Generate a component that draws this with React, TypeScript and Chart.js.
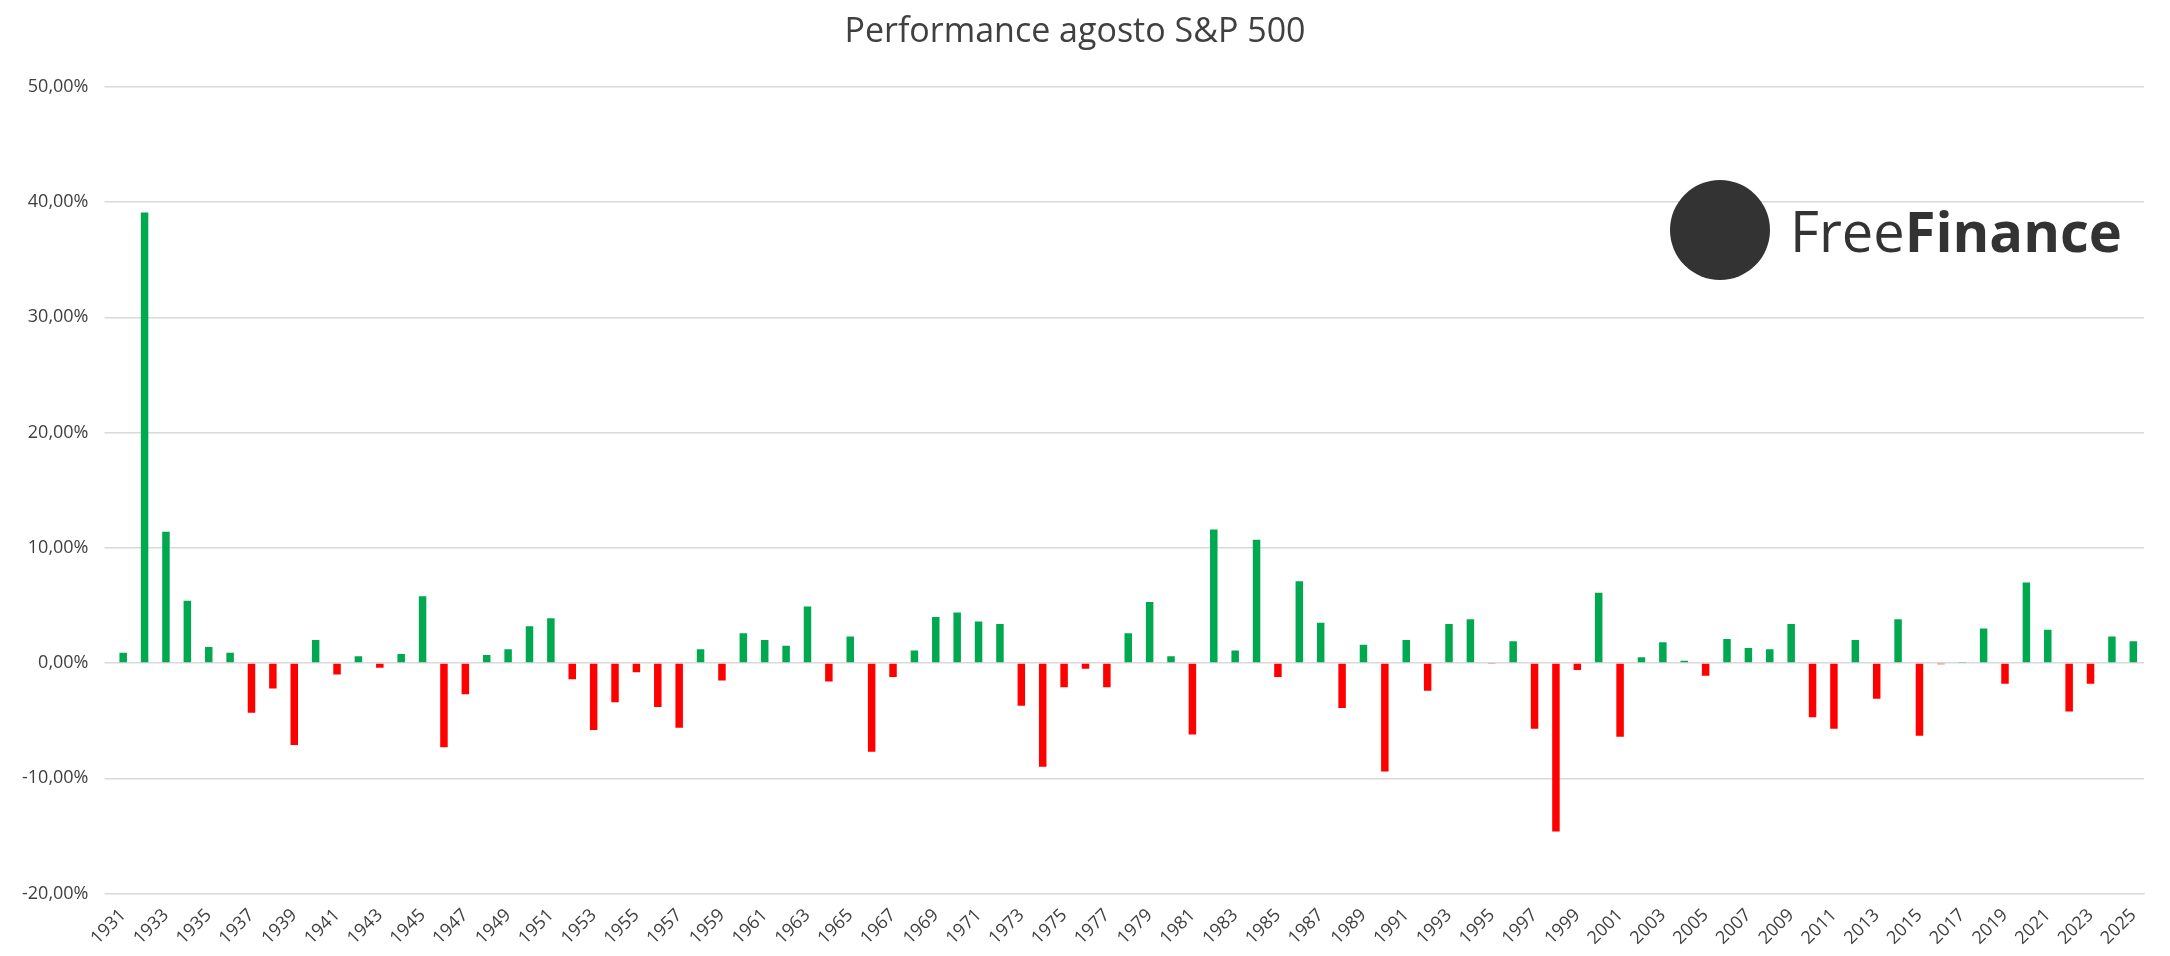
import React, { useEffect, useRef } from "react";
import { Chart, registerables } from "chart.js";
Chart.register(...registerables);

const years: string[] = [];
for (let y = 1931; y <= 2025; y++) years.push(String(y));
const values: number[] = [
  0.9, 39.1, 11.4, 5.4, 1.4, 0.9, -4.3, -2.2, -7.1, 2.0,
  -1.0, 0.6, -0.4, 0.8, 5.8, -7.3, -2.7, 0.7, 1.2, 3.2,
  3.9, -1.4, -5.8, -3.4, -0.8, -3.8, -5.6, 1.2, -1.5, 2.6,
  2.0, 1.5, 4.9, -1.6, 2.3, -7.7, -1.2, 1.1, 4.0, 4.4,
  3.6, 3.4, -3.7, -9.0, -2.1, -0.5, -2.1, 2.6, 5.3, 0.6,
  -6.2, 11.6, 1.1, 10.7, -1.2, 7.1, 3.5, -3.9, 1.6, -9.4,
  2.0, -2.4, 3.4, 3.8, -0.03, 1.9, -5.7, -14.6, -0.6, 6.1,
  -6.4, 0.5, 1.8, 0.2, -1.1, 2.1, 1.3, 1.2, 3.4, -4.7,
  -5.7, 2.0, -3.1, 3.8, -6.3, -0.1, 0.05, 3.0, -1.8, 7.0,
  2.9, -4.2, -1.8, 2.3, 1.9,
];
const title = "Performance agosto S&P 500";

export default function App() {
  const ref = useRef<HTMLCanvasElement>(null);
  useEffect(() => {
    document.body.style.margin = "0";
    const c = new Chart(ref.current!, {
      type: "bar",
      data: {
        labels: years,
        datasets: [{
          data: values,
          backgroundColor: values.map(v => (v >= 0 ? "#00A84F" : "#FF0000")),
          barPercentage: 0.7,
          categoryPercentage: 0.5,
        }],
      },
      options: {
        animation: false,
        responsive: false,
        layout: { padding: { left: 6, right: 26, top: 8, bottom: 4 } },
        plugins: {
          legend: { display: false },
          tooltip: { enabled: false },
          title: {
            display: true, text: title, color: "#404040",
            font: { size: 34, family: "Open Sans", weight: "normal" },
            padding: { top: 4, bottom: 34 },
          },
        },
        scales: {
          x: {
            grid: { display: false },
            border: { color: "#d9d9d9" },
            ticks: {
              autoSkip: false, maxRotation: 45, minRotation: 45,
              color: "#404040", font: { size: 18, family: "Open Sans" },
              callback: (_v, i) => (i % 2 === 0 ? years[i] : ""),
            },
          },
          y: {
            min: -20, max: 50,
            border: { display: false },
            grid: { color: "#d9d9d9", lineWidth: 1.5 },
            ticks: {
              stepSize: 10, color: "#404040", padding: 16,
              font: { size: 18, family: "Open Sans" },
              callback: v => Number(v).toFixed(2).replace(".", ",") + "%",
            },
          },
        },
      },
    });
    return () => c.destroy();
  }, []);
  return (
    <div style={{ position: "relative", width: 2170, height: 956, background: "#fff" }}>
      <canvas ref={ref} width={2170} height={956} />
      <div style={{ position: "absolute", left: 1670, top: 180, display: "flex", alignItems: "center" }}>
        <div style={{ width: 100, height: 100, borderRadius: "50%", background: "#333", marginRight: 20 }} />
        <span style={{ fontFamily: "Open Sans", fontSize: 56, color: "#333" }}>
          Free<b>Finance</b>
        </span>
      </div>
    </div>
  );
}
